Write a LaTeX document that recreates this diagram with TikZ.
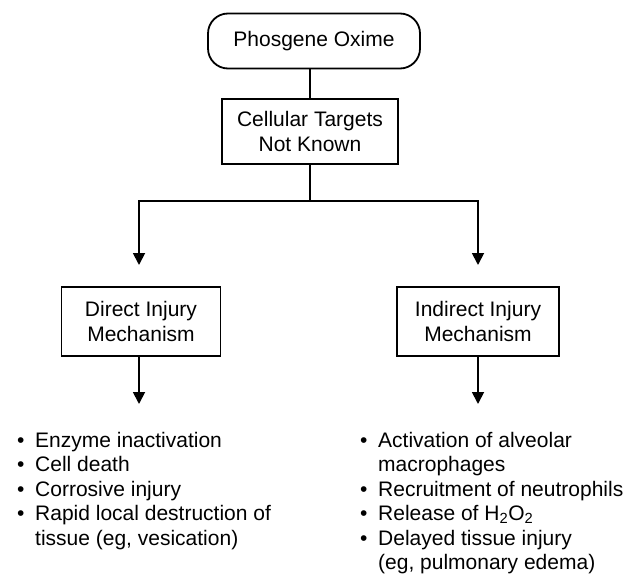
\documentclass[tikz,border=0pt]{standalone}
\usepackage{fontspec}
\setmainfont{Liberation Sans}
\usetikzlibrary{arrows.meta}
\begin{document}
\begin{tikzpicture}[x=1pt,y=-1pt,
  every node/.style={font=\fontsize{21}{24.5}\selectfont, inner sep=0pt},
  box/.style={draw, line width=1.8pt, align=center},
  startbox/.style={box, rounded corners=20pt},
  link/.style={line width=1.8pt},
  arr/.style={link, -{Triangle[length=12pt,width=12pt]}},
  item/.style={anchor=base west},
  dot/.style={anchor=base west}]
\useasboundingbox (0,0) rectangle (628,577);

% top of the chart
\node[startbox, minimum width=212pt, minimum height=55pt] (agent) at (314,41) {Phosgene Oxime};
\node[box, minimum width=176pt, minimum height=65pt] (targets) at (310,131.5) {Cellular Targets\\Not Known};

% two mechanisms
\node[box, minimum width=159pt, minimum height=69pt] (direct) at (141,321.5) {Direct Injury\\Mechanism};
\node[box, minimum width=162pt, minimum height=69pt] (indirect) at (478,321.5) {Indirect Injury\\Mechanism};

\coordinate (split) at (310,201);
\coordinate (leftin) at (139,265);
\coordinate (rightin) at (478,265);
\coordinate (leftout) at (139,404);
\coordinate (rightout) at (478,404);

\draw[link] (agent.south -| targets.north) -- (targets.north);
\draw[link] (targets.south) -- (split);
\draw[arr] (split) -| (leftin);
\draw[arr] (split) -| (rightin);
\draw[arr] (direct.south -| leftout) -- (leftout);
\draw[arr] (indirect.south) -- (rightout);

% effects of direct injury
\foreach \y [count=\i] in {447, 471.5, 496, 520.5}
  \node[dot] (ldot\i) at (17,\y) {\textbullet};
\node[item] (l1) at (35,447) {Enzyme inactivation};
\node[item] (l2) at (35,471.5) {Cell death};
\node[item] (l3) at (35,496) {Corrosive injury};
\node[item] (l4) at (35,520.5) {Rapid local destruction of};
\node[item] (l5) at (35,545) {tissue (eg, vesication)};

% effects of indirect injury
\foreach \y [count=\i] in {447, 496, 520.5, 545}
  \node[dot] (rdot\i) at (360,\y) {\textbullet};
\node[item] (r1) at (378,447) {Activation of alveolar};
\node[item] (r2) at (378,471.5) {macrophages};
\node[item] (r3) at (378,496) {Recruitment of neutrophils};
\node[item] (r4) at (378,520.5) {Release of H\textsubscript{2}O\textsubscript{2}};
\node[item] (r5) at (378,545) {Delayed tissue injury};
\node[item] (r6) at (378,569.5) {(eg, pulmonary edema)};
\end{tikzpicture}
\end{document}
